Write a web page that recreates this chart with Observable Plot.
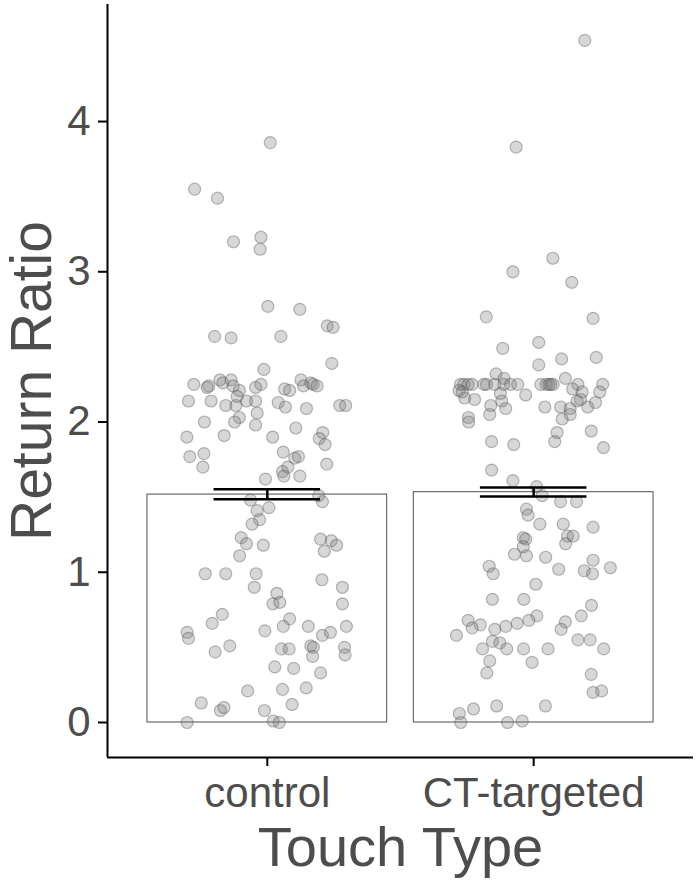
<!DOCTYPE html>
<html><head><meta charset="utf-8">
<script src="https://cdn.jsdelivr.net/npm/d3@7"></script>
<script src="https://cdn.jsdelivr.net/npm/@observablehq/plot@0.6"></script>
<style>body{margin:0;background:#fff} #chart svg{display:block}</style>
</head><body><div id="chart"></div>
<script>
const groups = ["control", "CT-targeted"];
const groupPos = [1, 2];
const means = [1.517, 1.533];
const seLow = [1.486, 1.504];
const seHigh = [1.553, 1.564];
const yTicks = [0, 1, 2, 3, 4];

const controlValues = [3.55,3.49,3.86,3.20,3.23,3.15,2.77,2.75,2.64,2.63,2.57,2.56,2.57,2.39,2.35,2.25,2.24,2.23,2.28,2.26,2.28,2.24,2.21,2.17,2.11,2.11,2.14,2.23,2.25,2.14,2.06,1.98,2.14,2.14,2.00,2.03,2.00,1.90,1.91,1.77,1.79,1.70,2.22,2.21,2.28,2.24,2.26,2.25,2.24,2.13,2.10,2.09,2.11,2.11,1.96,1.90,1.93,1.89,1.85,1.72,1.80,1.76,1.77,1.70,1.67,1.64,1.64,1.62,1.48,1.51,1.47,1.41,1.43,1.35,1.32,1.23,1.19,1.18,1.11,1.22,1.21,1.18,1.14,0.99,0.99,0.99,0.95,0.90,0.90,0.86,0.79,0.80,0.79,0.72,0.66,0.69,0.60,0.56,0.61,0.64,0.64,0.58,0.60,0.64,0.47,0.51,0.49,0.49,0.51,0.50,0.44,0.50,0.45,0.37,0.36,0.33,0.21,0.22,0.23,0.13,0.08,0.10,0.08,0.12,0.00,0.01,0.00];
const controlJitter = [-0.273,-0.187,0.011,-0.127,-0.024,-0.027,0.002,0.122,0.225,0.247,-0.198,-0.136,0.051,0.242,-0.013,-0.276,-0.220,-0.226,-0.178,-0.167,-0.136,-0.128,-0.105,-0.113,-0.118,-0.156,-0.078,-0.044,-0.024,-0.044,-0.038,-0.044,-0.296,-0.211,-0.236,-0.105,-0.123,-0.302,-0.162,-0.291,-0.238,-0.242,0.065,0.084,0.126,0.136,0.163,0.172,0.187,0.041,0.068,0.147,0.272,0.294,0.107,0.020,0.208,0.195,0.217,0.223,0.060,0.103,0.117,0.077,0.057,0.062,0.122,-0.007,-0.063,0.193,0.207,-0.038,0.006,-0.029,-0.057,-0.098,-0.078,-0.015,-0.104,0.200,0.240,0.260,0.214,-0.233,-0.156,-0.042,0.205,-0.049,0.282,0.036,0.021,0.047,0.282,-0.169,-0.207,0.084,-0.301,-0.296,-0.009,0.060,0.154,0.207,0.237,0.297,-0.196,-0.141,0.053,0.082,0.163,0.173,0.170,0.290,0.292,0.028,0.099,0.200,-0.074,0.057,0.146,-0.248,-0.176,-0.163,-0.011,0.093,-0.301,0.022,0.045];

const ctValues = [4.54,3.83,3.09,3.00,2.93,2.70,2.69,2.53,2.49,2.43,2.42,2.38,2.32,2.29,2.29,2.25,2.25,2.25,2.25,2.25,2.25,2.25,2.25,2.25,2.25,2.25,2.25,2.21,2.20,2.16,2.15,2.19,2.14,2.18,2.09,2.11,2.05,2.03,2.00,2.25,2.25,2.25,2.25,2.25,2.22,2.20,2.20,2.15,2.14,2.10,2.10,2.09,2.10,2.13,2.05,2.02,1.93,1.87,1.94,1.83,1.87,1.85,1.68,1.61,1.57,1.51,1.47,1.47,1.42,1.38,1.32,1.32,1.30,1.23,1.22,1.17,1.24,1.24,1.19,1.12,1.11,1.10,1.04,0.99,1.02,1.08,1.01,0.99,1.03,0.92,0.82,0.82,0.78,0.71,0.71,0.68,0.66,0.64,0.62,0.65,0.63,0.68,0.58,0.67,0.62,0.54,0.53,0.49,0.49,0.49,0.49,0.55,0.55,0.49,0.41,0.40,0.33,0.32,0.20,0.21,0.11,0.11,0.09,0.06,0.00,0.00,0.01];
const ctJitter = [0.192,-0.066,0.072,-0.078,0.143,-0.178,0.223,0.019,-0.116,0.235,0.105,0.019,-0.141,-0.111,0.119,0.166,0.259,-0.275,-0.262,-0.246,-0.231,-0.187,-0.177,-0.146,-0.112,-0.087,-0.060,-0.280,-0.268,-0.259,-0.222,-0.125,-0.120,-0.030,-0.105,-0.161,-0.165,-0.245,-0.244,0.027,0.047,0.057,0.064,0.073,0.146,0.182,0.248,0.176,0.163,0.042,0.101,0.137,0.203,0.232,0.137,0.107,0.088,0.079,0.216,0.262,-0.158,-0.075,-0.158,-0.078,0.011,0.032,0.101,0.161,-0.027,-0.021,0.023,0.111,0.223,-0.039,-0.030,-0.039,0.127,0.148,0.120,-0.072,-0.027,0.045,-0.167,-0.152,0.094,0.223,0.190,0.221,0.288,0.008,-0.155,-0.037,0.217,0.179,0.012,-0.018,-0.062,-0.105,-0.146,-0.200,-0.231,-0.246,-0.290,0.119,0.103,-0.155,-0.127,-0.192,-0.101,-0.038,0.054,0.166,0.212,0.263,-0.165,-0.006,-0.176,0.216,0.223,0.255,-0.139,0.044,-0.226,-0.279,-0.274,-0.098,-0.043];

const bars = groups.map((g, i) => ({g, pos: groupPos[i], mean: means[i], lo: seLow[i], hi: seHigh[i]}));
const points = [
  ...controlValues.map((v, i) => ({x: groupPos[0] + controlJitter[i], y: v})),
  ...ctValues.map((v, i) => ({x: groupPos[1] + ctJitter[i], y: v}))
];

const yMin = -0.233, yMax = 4.779;
const grey = "#4d4d4d";

const chart = Plot.plot({
  width: 700, height: 883,
  marginLeft: 107, marginRight: 7, marginTop: 4, marginBottom: 126,
  style: {fontFamily: "'Liberation Sans', Arial, sans-serif", background: "white"},
  x: {domain: [0.4, 2.6], axis: null},
  y: {domain: [yMin, yMax], axis: null},
  marks: [
    Plot.rect(bars, {x1: d => d.pos - 0.45, x2: d => d.pos + 0.45, y1: 0, y2: "mean", fill: "white", stroke: "#5e5e5e", strokeWidth: 1.1}),
    Plot.dot(points, {x: "x", y: "y", r: 6, fill: "#7a7a7a", fillOpacity: 0.3, stroke: "#555555", strokeOpacity: 0.4, strokeWidth: 1.2}),
    Plot.ruleX(bars, {x: "pos", y1: "lo", y2: "hi", stroke: "black", strokeWidth: 2.5}),
    Plot.ruleY(bars, {y: "lo", x1: d => d.pos - 0.2, x2: d => d.pos + 0.2, stroke: "black", strokeWidth: 2.5}),
    Plot.ruleY(bars, {y: "hi", x1: d => d.pos - 0.2, x2: d => d.pos + 0.2, stroke: "black", strokeWidth: 2.5}),
    Plot.axisY(yTicks, {tickSize: 9, tickPadding: 8, fontSize: 42, fill: grey, stroke: "black", strokeWidth: 2, label: null, tickFormat: d => String(d)}),
    Plot.axisX(groupPos, {tickSize: 9, tickPadding: 11, fontSize: 42, fill: grey, stroke: "black", strokeWidth: 2, label: null, tickFormat: d => groups[groupPos.indexOf(d)]}),
    Plot.ruleX([0.4], {stroke: "black", strokeWidth: 2}),
    Plot.ruleY([yMin], {stroke: "black", strokeWidth: 2}),
    Plot.text(["Return Ratio"], {text: d => d, frameAnchor: "left", dx: -57, rotate: -90, textAnchor: "middle", lineAnchor: "bottom", fontSize: 57, fill: grey}),
    Plot.text(["Touch Type"], {text: d => d, frameAnchor: "bottom", dy: 108, textAnchor: "middle", lineAnchor: "bottom", fontSize: 56, fill: grey})
  ]
});
document.getElementById("chart").appendChild(chart);
</script>
</body></html>
